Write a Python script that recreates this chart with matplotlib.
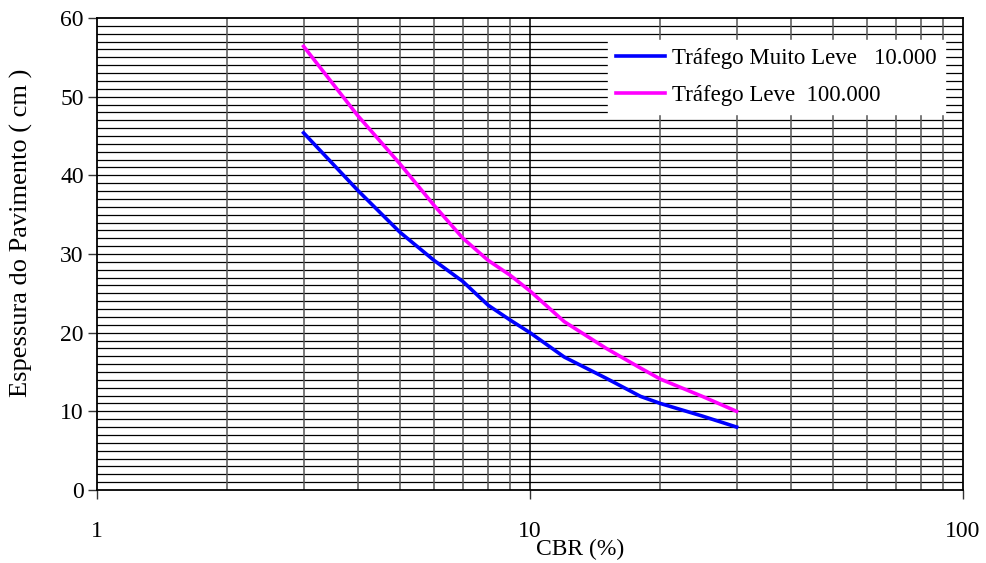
import matplotlib
matplotlib.use("Agg")
import matplotlib.pyplot as plt
import numpy as np

# Data
cbr = [3, 4, 5, 6, 7, 8, 9, 10, 12, 15, 18, 20, 25, 30]
muito_leve = [45.4, 38.1, 32.8, 29.2, 26.5, 23.5, 21.6, 20.0, 16.9, 14.2, 11.9, 11.0, 9.4, 8.0]
leve = [56.4, 47.6, 41.5, 36.2, 32.0, 29.2, 27.3, 25.3, 21.4, 18.0, 15.5, 14.1, 11.9, 10.0]
labels = ["Tráfego Muito Leve   10.000", "Tráfego Leve  100.000"]
xticks = [1, 10, 100]
yticks = [0, 10, 20, 30, 40, 50, 60]

plt.rcParams['font.family'] = ['Liberation Serif', 'DejaVu Serif']
FS = 17
LFS = 16.5

fig = plt.figure(figsize=(9.87, 5.63), dpi=100)
ax = fig.add_axes([97/987, 1-490/563, (963-97)/987, (490-18)/563])

ax.set_xscale('log')
ax.set_xlim(1, 100)
ax.set_ylim(0, 60)

# grid
for y in range(1, 60):
    ax.axhline(y, color='black', lw=0.9, zorder=1)
for dec in [1, 10]:
    for m in range(2, 10):
        ax.axvline(dec*m, color='#555555', lw=1.1, zorder=1)
ax.axvline(10, color='black', lw=1.1, zorder=1)

ax.plot(cbr, muito_leve, color='#0000ff', lw=2.6, label=labels[0], zorder=3)
ax.plot(cbr, leve, color='#ff00ff', lw=2.6, label=labels[1], zorder=3)

ax.set_xticks(xticks)
ax.set_xticklabels([str(t) for t in xticks])
ax.xaxis.set_minor_locator(matplotlib.ticker.NullLocator())
ax.set_yticks(yticks)
ax.tick_params(axis='both', direction='out', length=6.5, width=1, labelsize=FS, color='#333333')
ax.tick_params(axis='x', pad=16)
ax.tick_params(axis='y', pad=3)

for s in ax.spines.values():
    s.set_linewidth(1.3)
    s.set_color('black')
    s.set_zorder(4)

ax.set_ylabel('Espessura do Pavimento ( cm )', fontsize=19)
ax.yaxis.set_label_coords(-(97-33)/(963-97), (490-233)/(490-18))
ax.set_xlabel('CBR (%)', fontsize=FS, va='center')
ax.xaxis.set_label_coords((580-97)/(963-97), -(549-490)/(490-18))

leg = ax.legend(loc='upper right', bbox_to_anchor=((945-97)/(963-97), 1-(40-18)/(490-18)),
                frameon=True, fancybox=False, fontsize=LFS, handlelength=2.17,
                handletextpad=0.3, borderpad=0.35, labelspacing=0.7, borderaxespad=0)
leg.get_frame().set_edgecolor('white')
leg.get_frame().set_facecolor('white')
leg.get_frame().set_alpha(1)
leg.set_zorder(5)

fig.savefig('out.png', dpi=100)
